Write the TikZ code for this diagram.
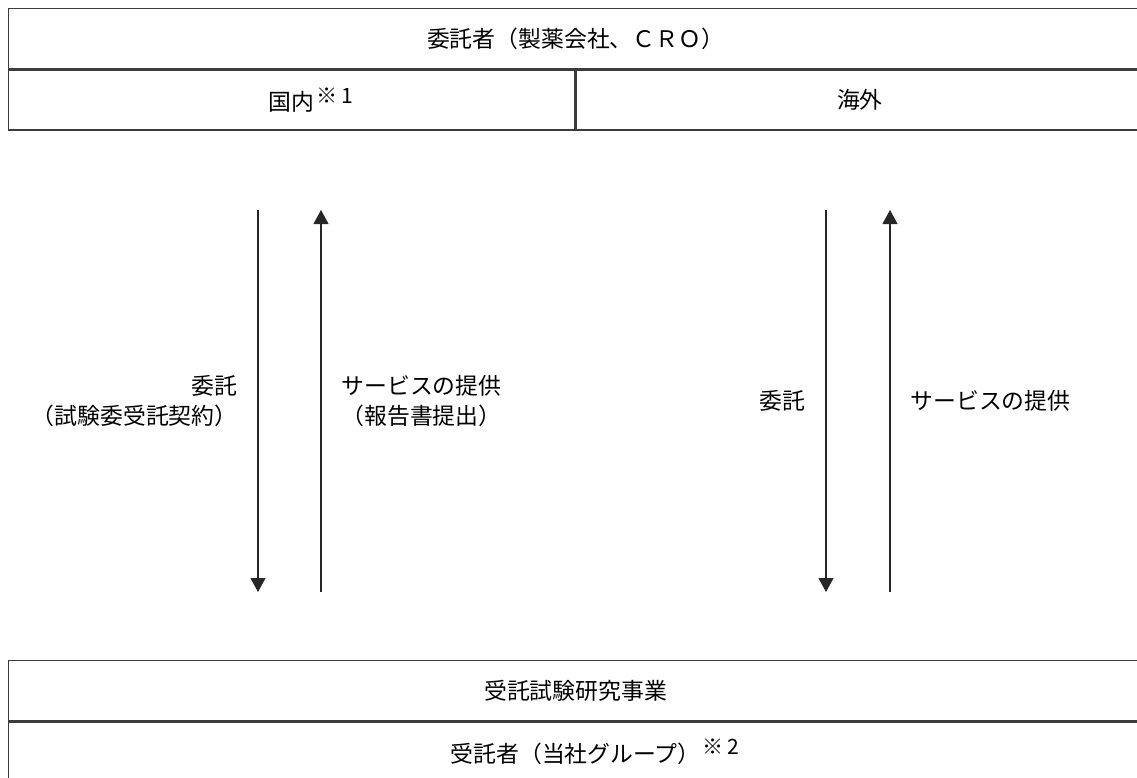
\documentclass[tikz,border=0pt]{standalone}
\usepackage{fontspec}
\setmainfont{Noto Sans CJK JP}
\usepackage{tikz}
\usetikzlibrary{arrows.meta,positioning}
\definecolor{ruleink}{RGB}{60,60,60}
\newcommand{\kome}[1]{\rlap{\raisebox{4.5pt}{\hspace{0.1em}\fontsize{12}{14}\selectfont ※\hspace{0.15em}#1}}}

\begin{document}
\begin{tikzpicture}[x=0.02cm,y=-0.02cm,
    cell/.style={draw=ruleink, line width=0.8pt, rectangle, inner sep=0pt,
                 minimum height=1.2cm, anchor=north west},
    tag/.style={inner sep=0pt},
    flow/.style={draw=black!85, line width=0.6pt,
                 -{Triangle[width=0.3cm,length=0.28cm]}}]
    \useasboundingbox (0,0) rectangle (1137,778);
    \fontsize{13}{17}\selectfont

    % Client side
    \node[cell, minimum width=22.68cm] (client) at (8,8)
        {委託者（製薬会社、ＣＲＯ）};
    \node[cell, minimum width=11.32cm] (domestic) at (client.south west)
        {国内\kome{1}};
    \node[cell, minimum width=11.36cm] (overseas) at (domestic.north east)
        {海外};

    % Contractor side
    \node[cell, minimum width=22.68cm] (business) at (8,660)
        {受託試験研究事業};
    \node[cell, minimum width=22.68cm] (contractor) at (business.south west)
        {受託者（当社グループ）\kome{2}};

    % Flows
    \coordinate (ltop1) at (258,210);
    \coordinate (lbot1) at (258,592);
    \coordinate (ltop2) at (321,210);
    \coordinate (lbot2) at (321,592);
    \coordinate (rtop1) at (826,210);
    \coordinate (rbot1) at (826,592);
    \coordinate (rtop2) at (890,210);
    \coordinate (rbot2) at (890,592);

    \draw[flow] (ltop1) -- node[tag, left=0.4cm, align=right]
        {委託\\（試験委受託契約）} (lbot1);
    \draw[flow] (lbot2) -- node[tag, right=0.4cm, align=left]
        {サービスの提供\\（報告書提出）} (ltop2);
    \draw[flow] (rtop1) -- node[tag, left=0.4cm] {委託} (rbot1);
    \draw[flow] (rbot2) -- node[tag, right=0.4cm] {サービスの提供} (rtop2);
\end{tikzpicture}
\end{document}
